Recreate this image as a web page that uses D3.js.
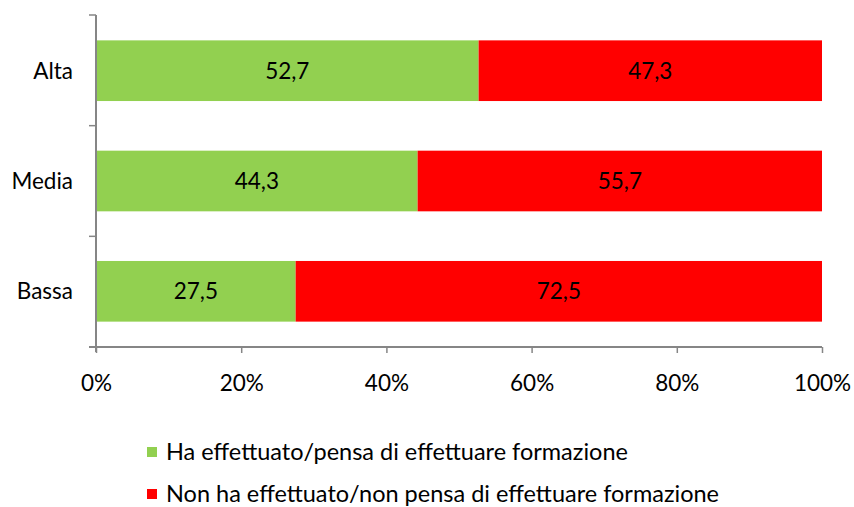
<!DOCTYPE html>
<html><head><meta charset="utf-8">
<script src="https://cdn.jsdelivr.net/npm/d3@7"></script>
<style>body{margin:0;background:#fff}svg{display:block}text{font-family:Lato,"Open Sans",sans-serif}</style>
</head><body><svg id="c" width="854" height="507"></svg>
<script>
const categories = ["Alta", "Media", "Bassa"];
const seriesNames = ["Ha effettuato/pensa di effettuare formazione", "Non ha effettuato/non pensa di effettuare formazione"];
const fatto = [52.7, 44.3, 27.5];
const nonFatto = [47.3, 55.7, 72.5];
const xTicks = [0, 20, 40, 60, 80, 100];
const colors = ["#92D050", "#FF0000"];

(function () {
const svg = d3.select("#c");
const mL = 96, mR = 822, mT = 15, mB = 347;
const fs = 22.5;
const axisColor = "#868686";
const x = d3.scaleLinear().domain([0, 100]).range([mL, mR]);
const y = d3.scaleBand().domain(categories).range([mT, mB]).paddingInner(0.45).paddingOuter(0.23);
const yb = d3.scaleBand().domain(categories).range([mT, mB]);

const rows = categories.map((c, i) => ({cat: c, vals: [fatto[i], nonFatto[i]]}));
const fmt = v => v.toFixed(1).replace(".", ",");

rows.forEach(r => {
  let acc = 0;
  r.vals.forEach((v, j) => {
    const x0 = x(acc), x1 = x(acc + v);
    svg.append("rect").attr("x", x0).attr("y", y(r.cat)).attr("width", x1 - x0).attr("height", y.bandwidth()).attr("fill", colors[j]);
    svg.append("text").attr("x", (x0 + x1) / 2).attr("y", y(r.cat) + y.bandwidth() / 2).attr("dy", "0.35em")
      .attr("text-anchor", "middle").attr("font-size", fs).attr("fill", "#000").text(fmt(v));
    acc += v;
  });
});

// y axis
svg.append("line").attr("x1", mL).attr("x2", mL).attr("y1", mT).attr("y2", mB + 5).attr("stroke", axisColor).attr("stroke-width", 2);
const yTickPos = [mT].concat(categories.map(c => yb(c) + yb.bandwidth()));
yTickPos.forEach(p => svg.append("line").attr("x1", mL - 7).attr("x2", mL).attr("y1", p).attr("y2", p).attr("stroke", axisColor).attr("stroke-width", 1.5));
categories.forEach(c => svg.append("text").attr("x", 73).attr("y", y(c) + y.bandwidth() / 2).attr("dy", "0.35em")
  .attr("text-anchor", "end").attr("font-size", fs).attr("fill", "#000").text(c));

// x axis
const gx = svg.append("g").attr("transform", `translate(0,${mB})`)
  .call(d3.axisBottom(x).tickValues(xTicks).tickSize(6).tickPadding(22).tickFormat(t => t + "%"));
gx.select(".domain").attr("stroke", axisColor).attr("stroke-width", 2).attr("d", `M${mL - 7},0H${mR}`);
gx.selectAll(".tick line").attr("stroke", axisColor).attr("stroke-width", 1.5);
gx.selectAll(".tick text").attr("font-size", fs).attr("font-family", "Lato, 'Open Sans', sans-serif").attr("fill", "#000");

// legend
const legY = [452, 494];
seriesNames.forEach((n, i) => {
  svg.append("rect").attr("x", 147).attr("y", legY[i] - 5).attr("width", 10).attr("height", 10).attr("fill", colors[i]);
  svg.append("text").attr("x", 166).attr("y", legY[i]).attr("dy", "0.35em").attr("font-size", 23.5).attr("fill", "#000").text(n);
});
})();
</script></body></html>
